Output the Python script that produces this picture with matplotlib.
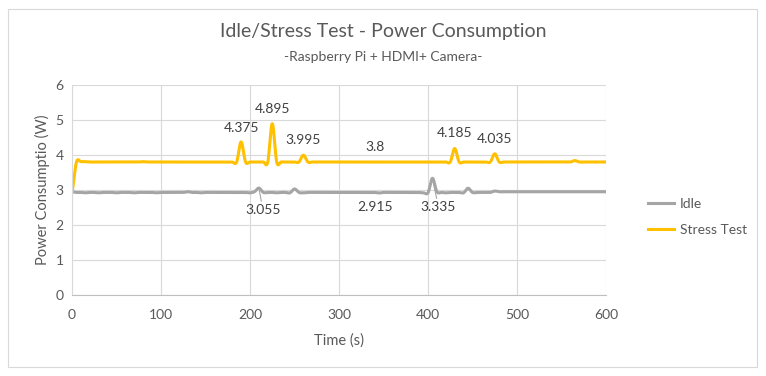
import numpy as np
import matplotlib.pyplot as plt
from matplotlib.patches import Rectangle

plt.rcParams['font.family'] = ['Lato', 'DejaVu Sans']

# Время, с (шаг 5 с)
t = list(range(0, 605, 5))

# Потребление в простое, Вт
idle = [2.95, 2.93, 2.93, 2.92, 2.93, 2.93, 2.92, 2.93, 2.93, 2.93,
        2.92, 2.93, 2.93, 2.93, 2.92, 2.93, 2.93, 2.93, 2.93, 2.92,
        2.93, 2.93, 2.93, 2.93, 2.93, 2.93, 2.95, 2.93, 2.93, 2.92,
        2.93, 2.93, 2.93, 2.93, 2.93, 2.93, 2.93, 2.93, 2.93, 2.93,
        2.92, 2.95, 3.055, 2.93, 2.93, 2.93, 2.92, 2.93, 2.93, 2.92,
        3.03, 2.93, 2.92, 2.93, 2.93, 2.93, 2.93, 2.93, 2.93, 2.93,
        2.93, 2.93, 2.93, 2.93, 2.93, 2.93, 2.93, 2.93, 2.93, 2.915,
        2.93, 2.93, 2.93, 2.93, 2.93, 2.93, 2.93, 2.93, 2.93, 2.92,
        2.92, 3.335, 2.95, 2.93, 2.92, 2.93, 2.93, 2.93, 2.92, 3.05,
        2.93, 2.93, 2.93, 2.93, 2.93, 2.97, 2.95, 2.95, 2.95, 2.95,
        2.95, 2.95, 2.95, 2.95, 2.95, 2.95, 2.95, 2.95, 2.95, 2.95,
        2.95, 2.95, 2.95, 2.95, 2.95, 2.95, 2.95, 2.95, 2.95, 2.95,
        2.95]

# Потребление при стресс-тесте, Вт
stress = [2.95, 3.8, 3.81, 3.81, 3.8, 3.8, 3.8, 3.8, 3.8, 3.8,
          3.8, 3.8, 3.8, 3.8, 3.8, 3.8, 3.81, 3.8, 3.8, 3.8,
          3.8, 3.8, 3.8, 3.8, 3.8, 3.8, 3.8, 3.8, 3.8, 3.8,
          3.8, 3.8, 3.8, 3.8, 3.8, 3.8, 3.8, 3.8, 4.375, 3.8,
          3.8, 3.8, 3.8, 3.8, 3.8, 4.895, 3.8, 3.8, 3.8, 3.8,
          3.8, 3.8, 3.995, 3.8, 3.8, 3.8, 3.8, 3.8, 3.8, 3.8,
          3.8, 3.8, 3.8, 3.8, 3.8, 3.8, 3.8, 3.8, 3.8, 3.8,
          3.8, 3.8, 3.8, 3.8, 3.8, 3.8, 3.8, 3.8, 3.8, 3.8,
          3.8, 3.8, 3.8, 3.8, 3.8, 3.8, 4.185, 3.8, 3.8, 3.8,
          3.8, 3.8, 3.8, 3.8, 3.8, 4.035, 3.8, 3.8, 3.8, 3.8,
          3.8, 3.8, 3.8, 3.8, 3.8, 3.8, 3.8, 3.8, 3.8, 3.8,
          3.8, 3.8, 3.8, 3.84, 3.8, 3.8, 3.8, 3.8, 3.8, 3.8,
          3.8]

# Подписи: (индекс точки, смещение x, смещение y в пикселях, линия-выноска)
stress_labels = [(38, 0, 8), (45, 0, 9), (52, 0, 9), (68, 0, 9), (86, 0, 10), (95, 0, 9)]
idle_labels = [(42, 4, -16, True), (69, -4, -8, False), (81, 6, -23, True)]


def smooth(x, y, n=12):
    # сглаживание как в Excel (Catmull-Rom)
    x = np.asarray(x, float)
    y = np.asarray(y, float)
    px = np.concatenate([[2 * x[0] - x[1]], x, [2 * x[-1] - x[-2]]])
    py = np.concatenate([[y[0]], y, [y[-1]]])
    s = np.linspace(0, 1, n, endpoint=False)
    xs, ys = [], []
    for i in range(1, len(px) - 2):
        for p, out in ((px, xs), (py, ys)):
            p0, p1, p2, p3 = p[i - 1], p[i], p[i + 1], p[i + 2]
            out.extend(0.5 * (2 * p1 + (-p0 + p2) * s + (2 * p0 - 5 * p1 + 4 * p2 - p3) * s ** 2
                              + (-p0 + 3 * p1 - 3 * p2 + p3) * s ** 3))
    xs.append(x[-1])
    ys.append(y[-1])
    return xs, ys


grey = '#595959'
c_idle = '#a5a5a5'
c_stress = '#ffc000'

fig = plt.figure(figsize=(7.66, 3.76), dpi=100)
fig.patches.append(Rectangle((8/766, 9/376), 749/766, 358/376, transform=fig.transFigure,
                             fill=False, edgecolor='#d9d9d9', linewidth=0.8))

ax = fig.add_axes([72/766, 81/376, 534/766, 210/376])
ax.plot(*smooth(t, idle), color=c_idle, lw=2.2, label='Idle')
ax.plot(*smooth(t, stress), color=c_stress, lw=2.2, label='Stress Test')

for i, dx, dy in stress_labels:
    ax.annotate(f'{stress[i]:g}', (t[i], stress[i]), xytext=(dx, dy), textcoords='offset pixels',
                ha='center', va='bottom', fontsize=10, color='#404040')
for i, dx, dy, lead in idle_labels:
    arrow = dict(arrowstyle='-', color='#a5a5a5', lw=0.8, shrinkA=0, shrinkB=2) if lead else None
    ax.annotate(f'{idle[i]:g}', (t[i], idle[i]), xytext=(dx, dy), textcoords='offset pixels',
                ha='center', va='top', fontsize=10, color='#404040', arrowprops=arrow)

ax.set_xlim(0, 600)
ax.set_ylim(0, 6)
ax.set_xticks(range(0, 601, 100))
ax.set_yticks(range(0, 7))
ax.grid(True, color='#d9d9d9', lw=0.8)
ax.set_axisbelow(True)
for s in ['top', 'right']:
    ax.spines[s].set_visible(False)
ax.spines['left'].set_color('#d9d9d9')
ax.spines['bottom'].set_color('#bfbfbf')
ax.tick_params(axis='x', length=0, colors=grey, labelsize=10, pad=10)
ax.tick_params(axis='y', length=0, colors=grey, labelsize=10, pad=6)
ax.set_xlabel('Time (s)', color=grey, fontsize=10.5, labelpad=9)
ax.set_ylabel('Power Consumptio (W)', color=grey, fontsize=10.5)

fig.text(383/766, 1 - 32/376, 'Idle/Stress Test - Power Consumption', ha='center', va='center',
         fontsize=14, color=grey)
fig.text(383/766, 1 - 57/376, '-Raspberry Pi + HDMI+ Camera-', ha='center', va='center',
         fontsize=10, color=grey)

ax.legend(loc='center left', bbox_to_anchor=(1.055, 0.37), frameon=False, fontsize=10,
          labelcolor=grey, handlelength=1.9, handletextpad=0.4, labelspacing=1.0)

fig.savefig('out.png', dpi=100)
